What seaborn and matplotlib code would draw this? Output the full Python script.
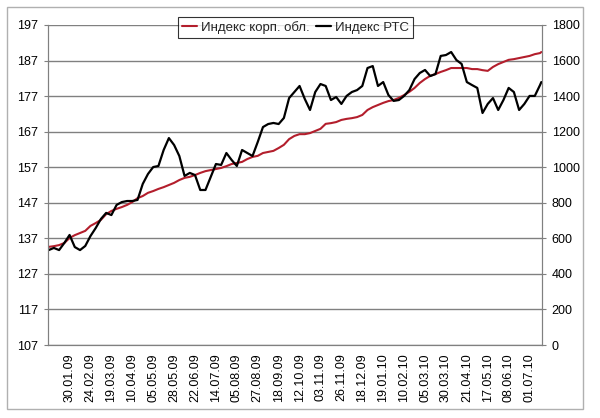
import matplotlib
matplotlib.use("Agg")
import matplotlib.pyplot as plt
from matplotlib.patches import Rectangle
import numpy as np
import pandas as pd
import seaborn as sns

# Данные: индекс корпоративных облигаций (левая ось) и индекс РТС (правая ось)
# точки взяты через каждые 4 торговых дня

day_idx = list(range(0, 377, 4)) + [377]

corp_bonds = [134.6, 134.8, 135.1, 135.7, 137.1, 137.9, 138.5, 139.1, 140.5, 141.3,
              142.2, 143.8, 144.7, 145.3, 145.8, 146.4, 147.2, 148.3, 148.9, 149.8,
              150.3, 150.9, 151.4, 152.0, 152.6, 153.4, 154.0, 154.3, 154.8, 155.4,
              155.9, 156.2, 156.5, 156.8, 157.3, 157.9, 158.2, 158.5, 159.3, 159.9,
              160.2, 161.0, 161.3, 161.6, 162.4, 163.3, 164.9, 165.8, 166.3, 166.3,
              166.6, 167.2, 167.8, 169.2, 169.4, 169.7, 170.3, 170.6, 170.8, 171.1,
              171.7, 173.1, 173.9, 174.5, 175.1, 175.6, 175.9, 176.5, 177.3, 178.2,
              179.3, 180.7, 181.8, 182.7, 183.2, 183.8, 184.3, 184.9, 184.9, 184.9,
              184.9, 184.6, 184.6, 184.3, 184.1, 185.2, 186.0, 186.6, 187.2, 187.4,
              187.7, 188.0, 188.3, 188.8, 189.1, 189.4]

rts = [534, 546, 534, 574, 619, 551, 534, 557, 613, 658,
       709, 743, 731, 788, 804, 810, 810, 816, 906, 962,
       1001, 1007, 1097, 1164, 1125, 1063, 951, 968, 956, 872,
       872, 945, 1018, 1013, 1080, 1041, 1007, 1097, 1080, 1063,
       1142, 1226, 1243, 1249, 1243, 1277, 1389, 1423, 1457, 1384,
       1322, 1423, 1468, 1457, 1378, 1395, 1356, 1401, 1423, 1434,
       1457, 1558, 1569, 1457, 1479, 1406, 1373, 1378, 1401, 1434,
       1496, 1530, 1547, 1513, 1524, 1626, 1631, 1648, 1603, 1581,
       1479, 1462, 1446, 1305, 1356, 1389, 1322, 1378, 1446, 1423,
       1322, 1356, 1401, 1401, 1462, 1479]

date_labels = ["30.01.09", "24.02.09", "19.03.09", "10.04.09", "05.05.09", "28.05.09",
               "22.06.09", "14.07.09", "05.08.09", "27.08.09", "18.09.09", "12.10.09",
               "03.11.09", "26.11.09", "18.12.09", "19.01.10", "10.02.10", "05.03.10",
               "30.03.10", "21.04.10", "17.05.10", "08.06.10", "01.07.10"]
label_idx = [16 * (i + 1) for i in range(len(date_labels))]
n_days = 378

left_ticks = [107, 117, 127, 137, 147, 157, 167, 177, 187, 197]
right_ticks = [0, 200, 400, 600, 800, 1000, 1200, 1400, 1600, 1800]

df = pd.DataFrame({"day": day_idx, "corp": corp_bonds, "rts": rts})

sns.set_style("white")
plt.rcParams["font.family"] = ["Liberation Sans", "DejaVu Sans"]

fig = plt.figure(figsize=(6, 4.18), dpi=100)
ax = fig.add_axes([0.08, 0.1746, 0.8233, 0.7656])
ax2 = ax.twinx()

grey = "#808080"
red = "#B31E2C"

sns.lineplot(data=df, x="day", y="corp", ax=ax, color=red, lw=1.5,
             label="Индекс корп. обл.", legend=False)
sns.lineplot(data=df, x="day", y="rts", ax=ax2, color="black", lw=1.6,
             label="Индекс РТС", legend=False)

ax.set_xlim(-0.5, n_days - 0.5)
ax.set_ylim(107, 197)
ax2.set_ylim(0, 1800)
ax.set_yticks(left_ticks)
ax2.set_yticks(right_ticks)
ax.set_xticks(label_idx)
ax.set_xticklabels(date_labels, rotation=90)
ax.set_xticks(np.arange(-0.5, n_days, 1), minor=True)
ax.set_xlabel("")
ax.set_ylabel("")
ax2.set_ylabel("")

ax.yaxis.grid(True, color=grey, lw=1)
ax.set_axisbelow(True)

for a in (ax, ax2):
    for s in a.spines.values():
        s.set_color(grey)
    a.spines["top"].set_visible(False)
    a.tick_params(axis="both", which="both", colors=grey, labelcolor="black",
                  labelsize=9, direction="out")
ax.tick_params(axis="y", length=3, pad=4)
ax2.tick_params(axis="y", length=3, pad=4)
ax.tick_params(axis="x", which="both", length=3, width=0.6, pad=3)

# легенда в одну строку над графиком
h1, l1 = ax.get_legend_handles_labels()
h2, l2 = ax2.get_legend_handles_labels()
leg = fig.legend(h1 + h2, l1 + l2, loc="upper center", ncol=2,
                 bbox_to_anchor=(0.4925, 0.96), borderaxespad=0, fontsize=9.5,
                 frameon=True, fancybox=False, edgecolor="black", borderpad=0.3,
                 handlelength=1.1, handletextpad=0.3, columnspacing=0.5)
leg.get_frame().set_linewidth(0.8)

# рамка вокруг всей диаграммы
fig.patches.append(Rectangle((7 / 600, 9 / 418), 576 / 600, 402 / 418,
                             transform=fig.transFigure, fill=False,
                             edgecolor="#B0B0B0", lw=1))

fig.savefig("out.png", dpi=100)
